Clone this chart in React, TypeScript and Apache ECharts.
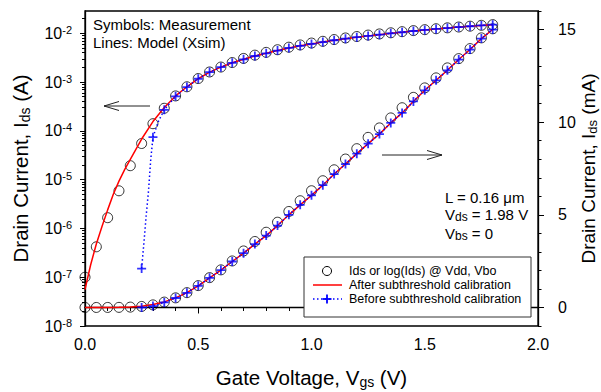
import React, { useEffect, useRef } from "react";
import * as echarts from "echarts";

const FONT = "'Liberation Sans', Arial, Helvetica, sans-serif";

// Gate voltage (V) of the measured points
const vgs = [0, 0.05, 0.1, 0.15, 0.2, 0.25, 0.3, 0.35, 0.4, 0.45, 0.5, 0.55, 0.6, 0.65, 0.7, 0.75, 0.8, 0.85, 0.9, 0.95, 1.0, 1.05, 1.1, 1.15, 1.2, 1.25, 1.3, 1.35, 1.4, 1.45, 1.5, 1.55, 1.6, 1.65, 1.7, 1.75, 1.8];
// Measured drain current (A)
const measuredIds = [1.0e-7, 4.2e-7, 1.66e-6, 5.9e-6, 1.93e-5, 5.5e-5, 1.4e-4, 2.9e-4, 5.2e-4, 8.0e-4, 1.18e-3, 1.61e-3, 2.03e-3, 2.51e-3, 3.05e-3, 3.56e-3, 4.06e-3, 4.6e-3, 5.18e-3, 5.76e-3, 6.3e-3, 6.84e-3, 7.43e-3, 8.01e-3, 8.57e-3, 9.18e-3, 9.69e-3, 1.023e-2, 1.078e-2, 1.134e-2, 1.185e-2, 1.239e-2, 1.293e-2, 1.343e-2, 1.397e-2, 1.455e-2, 1.504e-2];

// Model after subthreshold calibration (A)
const afterVgs = [0, 0.025, 0.05, 0.075, 0.1, 0.125, 0.15, 0.175, 0.2, 0.25, 0.3, 0.35, 0.4, 0.45, 0.5, 0.55, 0.6, 0.65, 0.7, 0.75, 0.8, 0.85, 0.9, 0.95, 1.0, 1.05, 1.1, 1.15, 1.2, 1.25, 1.3, 1.35, 1.4, 1.45, 1.5, 1.55, 1.6, 1.65, 1.7, 1.75, 1.8];
const afterIds = [5.6e-8, 1.8e-7, 4.8e-7, 1.1e-6, 2.4e-6, 5.0e-6, 9.3e-6, 1.6e-5, 2.6e-5, 6.8e-5, 1.55e-4, 3.0e-4, 5.2e-4, 8.0e-4, 1.17e-3, 1.6e-3, 2.02e-3, 2.48e-3, 2.93e-3, 3.42e-3, 3.88e-3, 4.42e-3, 5.0e-3, 5.54e-3, 6.05e-3, 6.6e-3, 7.2e-3, 7.74e-3, 8.3e-3, 8.84e-3, 9.36e-3, 9.96e-3, 1.05e-2, 1.112e-2, 1.172e-2, 1.226e-2, 1.28e-2, 1.338e-2, 1.392e-2, 1.451e-2, 1.5e-2];

// Model before subthreshold calibration (A)
const beforeVgs = [0.25, 0.26, 0.27, 0.28, 0.29, 0.3, 0.325, 0.35, 0.4, 0.45, 0.5, 0.55, 0.6, 0.65, 0.7, 0.75, 0.8, 0.85, 0.9, 0.95, 1.0, 1.05, 1.1, 1.15, 1.2, 1.25, 1.3, 1.35, 1.4, 1.45, 1.5, 1.55, 1.6, 1.65, 1.7, 1.75, 1.8];
const beforeIds = [1.5e-7, 5e-7, 1.8e-6, 5.6e-6, 2.5e-5, 7.4e-5, 1.6e-4, 2.7e-4, 5.1e-4, 7.9e-4, 1.17e-3, 1.6e-3, 2.02e-3, 2.48e-3, 2.93e-3, 3.42e-3, 3.88e-3, 4.42e-3, 5.0e-3, 5.54e-3, 6.05e-3, 6.6e-3, 7.2e-3, 7.74e-3, 8.3e-3, 8.84e-3, 9.36e-3, 9.96e-3, 1.05e-2, 1.112e-2, 1.172e-2, 1.226e-2, 1.28e-2, 1.338e-2, 1.392e-2, 1.451e-2, 1.5e-2];

// Tick values
const logTicks = [1e-8, 1e-7, 1e-6, 1e-5, 1e-4, 1e-3, 1e-2];
const logMinorTicks = [2e-8, 3e-8, 4e-8, 5e-8, 6e-8, 7e-8, 8e-8, 9e-8, 2e-7, 3e-7, 4e-7, 5e-7, 6e-7, 7e-7, 8e-7, 9e-7, 2e-6, 3e-6, 4e-6, 5e-6, 6e-6, 7e-6, 8e-6, 9e-6, 2e-5, 3e-5, 4e-5, 5e-5, 6e-5, 7e-5, 8e-5, 9e-5, 2e-4, 3e-4, 4e-4, 5e-4, 6e-4, 7e-4, 8e-4, 9e-4, 2e-3, 3e-3, 4e-3, 5e-3, 6e-3, 7e-3, 8e-3, 9e-3, 2e-2];
const mATicks = [0, 5, 10, 15];

const toMA = (a: number) => a * 1000;
const isMarker = (v: number) => Math.abs(v * 20 - Math.round(v * 20)) < 1e-9;

const PLUS = "path://M4,0h2v4h4v2h-4v4h-2v-4h-4v-2h4z";
const BLACK = "#000";
const RED = "#ff0000";
const BLUE = "#0000ff";

function buildOption(): any {
  const measLog = vgs.map((v, i) => [v, measuredIds[i]]);
  const measLin = vgs.map((v, i) => [v, toMA(measuredIds[i])]);
  const afterLog = afterVgs.map((v, i) => [v, afterIds[i]]);
  const afterLin = afterVgs.map((v, i) => [v, toMA(afterIds[i])]);
  const beforeLog = beforeVgs.map((v, i) => [v, beforeIds[i]]);
  const beforeLin = beforeVgs.map((v, i) => [v, toMA(beforeIds[i])]);
  const beforeMarkLog = beforeLog.filter((p) => isMarker(p[0]));
  const beforeMarkLin = beforeLin.filter((p) => isMarker(p[0]));

  const axisLineStyle = { color: BLACK, width: 1.3 };
  const titleRich = {
    a: { fontSize: 20.5, lineHeight: 24, fontFamily: FONT, color: BLACK },
    s: { fontSize: 14, lineHeight: 8, verticalAlign: "bottom", fontFamily: FONT, color: BLACK },
  };
  const rightTitleRich = {
    a: { fontSize: 19, lineHeight: 21, fontFamily: FONT, color: BLACK },
    s: { fontSize: 13, lineHeight: 9, verticalAlign: "bottom", fontFamily: FONT, color: BLACK },
  };
  const annRich = {
    a: { fontSize: 15, lineHeight: 18, fontFamily: FONT, fill: BLACK, color: BLACK },
    s: { fontSize: 12, lineHeight: 8, verticalAlign: "bottom", fontFamily: FONT, fill: BLACK, color: BLACK },
  };
  const legendText = (text: string, y: number) => ({
    type: "text",
    x: 349,
    y,
    z: 101,
    style: { text, fontSize: 12.5, fontFamily: FONT, fill: BLACK, verticalAlign: "middle" },
  });

  return {
    animation: false,
    backgroundColor: "#fff",
    textStyle: { fontFamily: FONT, color: BLACK },
    grid: {
      left: 85,
      right: 63,
      top: 11,
      bottom: 66,
      outerBoundsMode: "none",
      containLabel: false,
      show: true,
      borderColor: BLACK,
      borderWidth: 1.3,
      backgroundColor: "transparent",
    },
    xAxis: {
      type: "value",
      min: 0,
      max: 2,
      interval: 0.5,
      name: "{a|Gate Voltage, V}{s|gs}{a| (V)}",
      nameLocation: "middle",
      nameGap: 39,
      nameTextStyle: { rich: titleRich },
      axisLine: { show: true, lineStyle: axisLineStyle },
      axisTick: { show: true, inside: false, length: 6, lineStyle: { color: BLACK, width: 1 } },
      minorTick: { show: true, splitNumber: 5, length: 3.5, lineStyle: { color: BLACK, width: 1 } },
      axisLabel: {
        margin: 10,
        fontSize: 16,
        fontFamily: FONT,
        color: BLACK,
        formatter: (v: number) => v.toFixed(1),
      },
      splitLine: { show: false },
    },
    yAxis: [
      {
        type: "log",
        logBase: 10,
        min: 1e-8,
        max: 0.0286,
        position: "left",
        name: "{a|Drain Current, I}{s|ds}{a| (A)}",
        nameLocation: "middle",
        nameGap: 53,
        nameTextStyle: { rich: titleRich },
        axisLine: { show: true, lineStyle: axisLineStyle },
        axisTick: { show: true, inside: false, length: 5, customValues: logTicks, lineStyle: { color: BLACK, width: 1 } },
        axisLabel: {
          customValues: logTicks,
          margin: 13,
          formatter: (v: number) => `{b|10}{s|${Math.round(Math.log10(v))}}`,
          rich: {
            b: { fontSize: 16, lineHeight: 18, fontFamily: FONT, color: BLACK },
            s: { fontSize: 11, lineHeight: 8, verticalAlign: "top", fontFamily: FONT, color: BLACK },
          },
        },
        splitLine: { show: false },
      },
      {
        type: "value",
        min: -1,
        max: 16,
        position: "right",
        name: "{a|Drain Current, I}{s|ds}{a| (mA)}",
        nameLocation: "middle",
        nameGap: 40,
        nameMoveOverlap: false,
        nameTextStyle: { rich: rightTitleRich },
        axisLine: { show: true, lineStyle: axisLineStyle },
        axisTick: { show: true, inside: false, length: 6, customValues: mATicks, lineStyle: { color: BLACK, width: 1 } },
        axisLabel: {
          customValues: mATicks,
          margin: 20,
          fontSize: 16,
          fontFamily: FONT,
          color: BLACK,
        },
        splitLine: { show: false },
      },
      {
        type: "value",
        min: -1,
        max: 16,
        interval: 1,
        position: "right",
        axisLine: { show: false },
        axisTick: { show: true, inside: false, length: 3.5, lineStyle: { color: BLACK, width: 1 } },
        axisLabel: { show: false },
        splitLine: { show: false },
      },
      {
        type: "log",
        logBase: 10,
        min: 1e-8,
        max: 0.0286,
        position: "left",
        axisLine: { show: false },
        axisTick: { show: true, inside: false, length: 3, customValues: logMinorTicks, lineStyle: { color: BLACK, width: 1 } },
        axisLabel: { show: false },
        splitLine: { show: false },
      },
    ],
    series: [
      {
        name: "meas-log",
        type: "scatter",
        yAxisIndex: 0,
        data: measLog,
        symbol: "circle",
        symbolSize: 10,
        itemStyle: { color: "rgba(0,0,0,0)", borderColor: BLACK, borderWidth: 1 },
        z: 2,
      },
      {
        name: "meas-lin",
        type: "scatter",
        yAxisIndex: 1,
        data: measLin,
        symbol: "circle",
        symbolSize: 10,
        itemStyle: { color: "rgba(0,0,0,0)", borderColor: BLACK, borderWidth: 1 },
        z: 2,
      },
      {
        name: "after-log",
        type: "line",
        yAxisIndex: 0,
        data: afterLog,
        symbol: "none",
        lineStyle: { color: RED, width: 1.5 },
        z: 3,
      },
      {
        name: "after-lin",
        type: "line",
        yAxisIndex: 1,
        data: afterLin,
        symbol: "none",
        lineStyle: { color: RED, width: 1.5 },
        z: 3,
      },
      {
        name: "before-log",
        type: "line",
        yAxisIndex: 0,
        data: beforeLog,
        symbol: "none",
        lineStyle: { color: BLUE, width: 1.5, type: [1.5, 2.5] },
        z: 4,
      },
      {
        name: "before-lin",
        type: "line",
        yAxisIndex: 1,
        data: beforeLin,
        symbol: "none",
        lineStyle: { color: BLUE, width: 1.5, type: [1.5, 2.5] },
        z: 4,
      },
      {
        name: "before-log-mark",
        type: "scatter",
        yAxisIndex: 0,
        data: beforeMarkLog,
        symbol: PLUS,
        symbolSize: 9,
        itemStyle: { color: BLUE },
        z: 5,
      },
      {
        name: "before-lin-mark",
        type: "scatter",
        yAxisIndex: 1,
        data: beforeMarkLin,
        symbol: PLUS,
        symbolSize: 9,
        itemStyle: { color: BLUE },
        z: 5,
      },
    ],
    graphic: [
      { type: "text", x: 93, y: 24, z: 100, style: { text: "Symbols: Measurement", fontSize: 15, fontFamily: FONT, fill: BLACK, verticalAlign: "middle" } },
      { type: "text", x: 93, y: 42.5, z: 100, style: { text: "Lines: Model (Xsim)", fontSize: 15, fontFamily: FONT, fill: BLACK, verticalAlign: "middle" } },
      { type: "text", x: 445, y: 197, z: 100, style: { text: "{a|L = 0.16 μm}", rich: annRich, verticalAlign: "middle" } },
      { type: "text", x: 445, y: 214, z: 100, style: { text: "{a|V}{s|ds}{a| = 1.98 V}", rich: annRich, verticalAlign: "middle" } },
      { type: "text", x: 445, y: 233, z: 100, style: { text: "{a|V}{s|bs}{a| = 0}", rich: annRich, verticalAlign: "middle" } },
      // arrows
      { type: "line", z: 100, shape: { x1: 104, y1: 106, x2: 150, y2: 106 }, style: { stroke: "#222", lineWidth: 1 } },
      { type: "polyline", z: 100, shape: { points: [[119, 101.5], [104, 106], [119, 110.5]] }, style: { stroke: "#222", lineWidth: 1, fill: "none" } },
      { type: "line", z: 100, shape: { x1: 382, y1: 155, x2: 442, y2: 155 }, style: { stroke: "#222", lineWidth: 1 } },
      { type: "polyline", z: 100, shape: { points: [[427, 150.5], [442, 155], [427, 159.5]] }, style: { stroke: "#222", lineWidth: 1, fill: "none" } },
      // legend box
      { type: "rect", z: 100, shape: { x: 304, y: 257, width: 227, height: 60 }, style: { fill: "#fff", stroke: "#333", lineWidth: 1 } },
      { type: "circle", z: 101, shape: { cx: 327, cy: 271, r: 4.5 }, style: { fill: "none", stroke: BLACK, lineWidth: 1 } },
      { type: "line", z: 101, shape: { x1: 313, y1: 285, x2: 342, y2: 285 }, style: { stroke: RED, lineWidth: 1.5 } },
      { type: "line", z: 101, shape: { x1: 313, y1: 299, x2: 342, y2: 299 }, style: { stroke: BLUE, lineWidth: 1.5, lineDash: [1.5, 2.5] } },
      { type: "line", z: 101, shape: { x1: 322.5, y1: 299, x2: 331.5, y2: 299 }, style: { stroke: BLUE, lineWidth: 1.8 } },
      { type: "line", z: 101, shape: { x1: 327, y1: 294.5, x2: 327, y2: 303.5 }, style: { stroke: BLUE, lineWidth: 1.8 } },
      legendText("Ids or log(Ids) @ Vdd, Vbo", 271),
      legendText("After subthreshold calibration", 285),
      legendText("Before subthreshold calibration", 299),
    ],
  };
}

export default function App() {
  const ref = useRef<HTMLDivElement>(null);
  useEffect(() => {
    if (!ref.current) return;
    const chart = echarts.init(ref.current, null, { renderer: "svg" });
    chart.setOption(buildOption());
    return () => chart.dispose();
  }, []);
  return (
    <div
      ref={ref}
      style={{ position: "absolute", left: 0, top: 0, width: 601, height: 392, background: "#fff" }}
    />
  );
}
